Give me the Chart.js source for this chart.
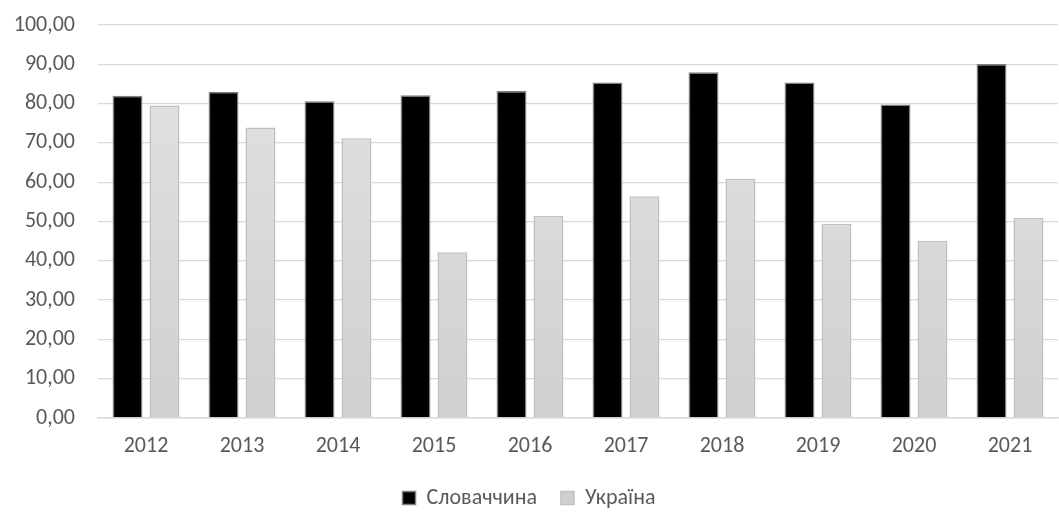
<!DOCTYPE html>
<html>
<head>
<meta charset="utf-8">
<script src="https://cdn.jsdelivr.net/npm/chart.js@4"></script>
<style>
  html, body { margin: 0; padding: 0; background: #fff; }
  #wrap { width: 1059px; height: 514px; }
</style>
</head>
<body>
<div id="wrap"><canvas id="chart" width="1059" height="514"></canvas></div>
<script>
// data
const years = ["2012", "2013", "2014", "2015", "2016", "2017", "2018", "2019", "2020", "2021"];
const slovakia = [82.0, 83.0, 80.6, 82.1, 83.2, 85.4, 88.0, 85.4, 79.8, 90.1];
const ukraine = [79.5, 73.9, 71.2, 42.2, 51.4, 56.4, 60.9, 49.4, 45.1, 50.9];
const yTicks = [0, 10, 20, 30, 40, 50, 60, 70, 80, 90, 100];

const font = "Carlito, Lato, 'Open Sans', sans-serif";
const textColor = "#595959";

// light bars fade from lighter top to darker bottom
function grayFill(context) {
  const area = context.chart.chartArea;
  if (!area) return "#d9d9d9";
  const g = context.chart.ctx.createLinearGradient(0, area.top, 0, area.bottom);
  g.addColorStop(0, "#e3e3e3");
  g.addColorStop(1, "#d0d0d0");
  return g;
}

const ctx = document.getElementById("chart").getContext("2d");

new Chart(ctx, {
  type: "bar",
  data: {
    labels: years,
    datasets: [
      {
        label: "Словаччина",
        data: slovakia,
        backgroundColor: "#000000",
        borderColor: "#7f7f7f",
        borderWidth: 1.5,
        categoryPercentage: 0.77,
        barPercentage: 0.81,
      },
      {
        label: "Україна",
        data: ukraine,
        backgroundColor: grayFill,
        borderColor: "#bfbfbf",
        borderWidth: 1.5,
        categoryPercentage: 0.77,
        barPercentage: 0.81,
      },
    ],
  },
  options: {
    responsive: false,
    animation: false,
    layout: { padding: { top: 25, right: 1, left: 0, bottom: -5 } },
    plugins: {
      tooltip: { enabled: false },
      legend: {
        position: "bottom",
        labels: {
          color: textColor,
          font: { family: font, size: 22 },
          boxWidth: 13,
          boxHeight: 13,
          padding: 24,
        },
      },
    },
    scales: {
      x: {
        grid: { display: false },
        border: { color: "#d9d9d9", width: 1.5 },
        ticks: {
          color: textColor,
          font: { family: font, size: 22 },
          padding: 7,
        },
        afterFit: (scale) => { scale.height = 45; },
      },
      y: {
        min: 0,
        max: 100,
        afterBuildTicks: (scale) => {
          scale.ticks = yTicks.map((v) => ({ value: v }));
        },
        grid: { color: "#d9d9d9", lineWidth: 1.3, drawTicks: false },
        border: { display: false },
        ticks: {
          color: textColor,
          font: { family: font, size: 22 },
          padding: 23,
          callback: (v) => v.toFixed(2).replace(".", ","),
        },
        afterFit: (scale) => {
          scale.width = 98;
          // label padding would otherwise push the plot down
          scale.paddingTop = 0;
          scale.paddingBottom = 0;
        },
      },
    },
  },
});
</script>
</body>
</html>
